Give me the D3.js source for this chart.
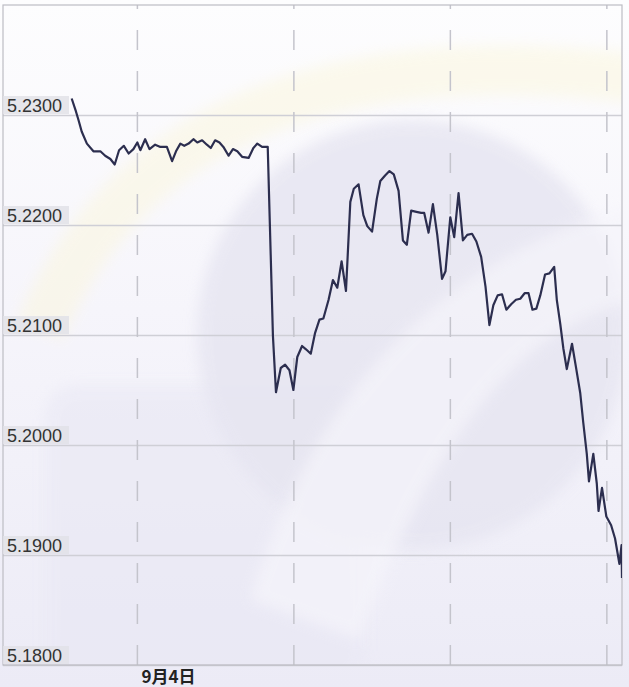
<!DOCTYPE html>
<html>
<head>
<meta charset="utf-8">
<script src="https://cdn.jsdelivr.net/npm/d3@7"></script>
<style>
  body { margin: 0; background: #f6f5fa; }
  svg { display: block; }
</style>
</head>
<body>
<script>
// minutes from 9月4日 00:00
const minutes = [
  -150, -140, -134, -127, -115, -100, -84, -73, -61, -51, -41, -30, -19, -8,
  1, 8, 19, 29, 42, 54, 69, 81, 90, 100, 109, 119, 130, 139, 150, 161, 170,
  180, 190, 199, 211, 221, 231, 242, 257, 268, 277, 288, 293, 301,
  313, 320, 331, 341, 351, 360, 369, 380, 389, 400, 410, 420, 429, 441, 451,
  461, 471, 481, 491, 499, 510, 521, 530, 541, 552, 560, 571, 581, 591, 602,
  612, 621, 631, 643, 654, 661, 671, 681, 691, 702, 710, 721, 730, 740, 750,
  760, 771, 781, 792, 802, 811, 820, 830, 840, 850, 861, 872, 882, 892, 901,
  910, 919, 928, 939, 949, 960, 966, 974, 981, 989, 1001, 1010, 1020, 1027,
  1035, 1040, 1050, 1058, 1062, 1070, 1080, 1091, 1100, 1110, 1115, 1116
];
const rates = [
  5.2315, 5.2303, 5.2295, 5.2285, 5.2274, 5.2267, 5.2267, 5.2263, 5.2260, 5.2255, 5.2268, 5.2272, 5.2265, 5.2269,
  5.2275, 5.2268, 5.2278, 5.2269, 5.2273, 5.2271, 5.2271, 5.2258, 5.2267, 5.2274, 5.2272, 5.2274, 5.2278, 5.2275, 5.2277, 5.2273, 5.2270,
  5.2277, 5.2275, 5.2271, 5.2263, 5.2269, 5.2267, 5.2262, 5.2261, 5.2270, 5.2274, 5.2271, 5.2271, 5.2271,
  5.2099, 5.2048, 5.2070, 5.2073, 5.2068, 5.2050, 5.2080, 5.2090, 5.2087, 5.2083, 5.2102, 5.2114, 5.2115, 5.2132, 5.2150,
  5.2143, 5.2167, 5.2140, 5.2221, 5.2233, 5.2237, 5.2209, 5.2199, 5.2194, 5.2224, 5.2240, 5.2245, 5.2249, 5.2246, 5.2231,
  5.2186, 5.2182, 5.2213, 5.2212, 5.2211, 5.2211, 5.2193, 5.2219, 5.2191, 5.2151, 5.2158, 5.2207, 5.2189, 5.2229, 5.2186,
  5.2191, 5.2192, 5.2185, 5.2171, 5.2144, 5.2109, 5.2127, 5.2136, 5.2137, 5.2123, 5.2128, 5.2132, 5.2133, 5.2138, 5.2138,
  5.2123, 5.2124, 5.2136, 5.2155, 5.2156, 5.2162, 5.2132, 5.2110, 5.2088, 5.2069, 5.2092, 5.2071, 5.2047, 5.2020,
  5.1992, 5.1967, 5.1992, 5.1965, 5.1940, 5.1961, 5.1935, 5.1927, 5.1915, 5.1892, 5.1909, 5.1879
];
const yTicks = [5.18, 5.19, 5.20, 5.21, 5.22, 5.23];
const xTicks = [0, 360, 720, 1080];
const xTickLabels = ["9月4日", "", "", ""];

const width = 629;
const height = 687;
const plotLeft = 3, plotRight = 622, plotTop = 5, plotBottom = 665;

const svg = d3
  .select("body")
  .append("svg")
  .attr("width", width)
  .attr("height", height);

const defs = svg.append("defs");

const bgGrad = defs
  .append("linearGradient")
  .attr("id", "bg")
  .attr("x1", 0).attr("y1", 0).attr("x2", 0).attr("y2", 1);
bgGrad.append("stop").attr("offset", "0%").attr("stop-color", "#fdfdfe");
bgGrad.append("stop").attr("offset", "45%").attr("stop-color", "#f6f5fb");
bgGrad.append("stop").attr("offset", "100%").attr("stop-color", "#ecebf6");

defs
  .append("filter")
  .attr("id", "soft")
  .attr("x", "-20%").attr("y", "-20%").attr("width", "140%").attr("height", "140%")
  .append("feGaussianBlur")
  .attr("stdDeviation", 7);

defs
  .append("clipPath")
  .attr("id", "plot")
  .append("rect")
  .attr("x", plotLeft)
  .attr("y", plotTop)
  .attr("width", plotRight - plotLeft)
  .attr("height", plotBottom - plotTop);

// background + faint watermark
svg.append("rect").attr("width", width).attr("height", height).attr("fill", "url(#bg)");

const mark = svg.append("g").attr("clip-path", "url(#plot)");
mark
  .append("path")
  .attr("d", "M40,330 Q170,20 650,80")
  .attr("fill", "none")
  .attr("stroke", "#fbf6d8")
  .attr("stroke-width", 50)
  .attr("opacity", 0.45)
  .attr("filter", "url(#soft)");
mark
  .append("rect")
  .attr("x", 45)
  .attr("y", 385)
  .attr("width", 320)
  .attr("height", 300)
  .attr("rx", 30)
  .attr("fill", "#e9e8f4")
  .attr("opacity", 0.6)
  .attr("filter", "url(#soft)");
mark
  .append("circle")
  .attr("cx", 412)
  .attr("cy", 335)
  .attr("r", 215)
  .attr("fill", "#e6e5f1")
  .attr("opacity", 0.8)
  .attr("filter", "url(#soft)");
mark
  .append("path")
  .attr("d", "M250,600 Q330,330 560,230 Q620,205 640,210 L640,300 Q470,330 360,640 Z")
  .attr("fill", "#f6f5fb")
  .attr("opacity", 0.7)
  .attr("filter", "url(#soft)");

const x = d3.scaleLinear().domain([-308, 1116]).range([plotLeft, plotRight]);
const y = d3.scaleLinear().domain([5.18, 5.24]).range([plotBottom, plotTop]);

// horizontal grid
const yAxis = svg
  .append("g")
  .attr("transform", `translate(${plotLeft},0)`)
  .call(d3.axisRight(y).tickValues(yTicks).tickSize(plotRight - plotLeft).tickFormat(""));
yAxis.select(".domain").remove();
yAxis.selectAll(".tick line").attr("stroke", "#cfcfd6").attr("stroke-width", 1.5);

// vertical dashed lines + date label
const xAxis = svg
  .append("g")
  .attr("transform", `translate(0,${plotBottom})`)
  .call(
    d3
      .axisBottom(x)
      .tickValues(xTicks)
      .tickSize(-(plotBottom - plotTop))
      .tickFormat((d, i) => xTickLabels[i])
  );
xAxis.select(".domain").remove();
xAxis
  .selectAll(".tick line")
  .attr("stroke", "#c4c4cc")
  .attr("stroke-width", 1.5)
  .attr("stroke-dasharray", "20,21");
xAxis
  .selectAll(".tick text")
  .attr("text-anchor", "start")
  .attr("x", 4)
  .attr("y", 18)
  .attr("dy", 0)
  .attr("fill", "#222")
  .style("font-family", "'Noto Sans CJK SC', sans-serif")
  .style("font-weight", "bold")
  .style("font-size", "17px");

// frame
svg
  .append("rect")
  .attr("x", plotLeft)
  .attr("y", plotTop)
  .attr("width", plotRight - plotLeft)
  .attr("height", plotBottom - plotTop)
  .attr("fill", "none")
  .attr("stroke", "#bdbdc4")
  .attr("stroke-width", 1.2);

// price line
const line = d3
  .line()
  .x((d, i) => x(minutes[i]))
  .y((d) => y(d));

svg
  .append("path")
  .datum(rates)
  .attr("clip-path", "url(#plot)")
  .attr("fill", "none")
  .attr("stroke", "#2c2e4f")
  .attr("stroke-width", 2.2)
  .attr("stroke-linejoin", "round")
  .attr("d", line);

// y labels sitting on their grid lines
const labels = svg.append("g");
yTicks.forEach((v) => {
  const g = labels.append("g").attr("transform", `translate(${plotLeft},${y(v)})`);
  g.append("rect")
    .attr("x", 0)
    .attr("y", -19)
    .attr("width", 66)
    .attr("height", 18)
    .attr("fill", "#e2e2e8")
    .attr("opacity", 0.85);
  g.append("text")
    .attr("x", 4)
    .attr("y", -3)
    .attr("fill", "#333")
    .style("font-family", "'Liberation Sans', Arial, sans-serif")
    .style("font-size", "18px")
    .text(d3.format(".4f")(v));
});
</script>
</body>
</html>
